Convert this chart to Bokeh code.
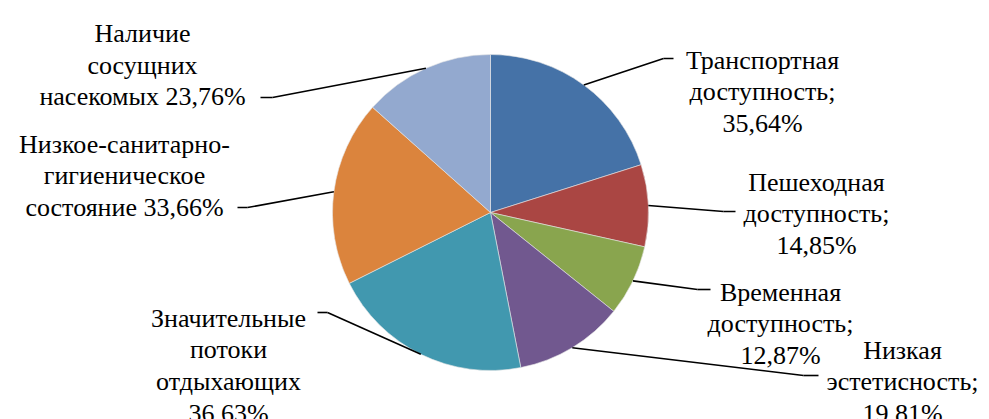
import math
from bokeh.plotting import figure
from bokeh.models import Range1d, ColumnDataSource
from bokeh.embed import file_html
from bokeh.resources import INLINE

# ---- data ----
categories = [
    "Транспортная\nдоступность",
    "Пешеходная\nдоступность",
    "Временная\nдоступность",
    "Низкая\nэстетисность",
    "Значительные\nпотоки\nотдыхающих",
    "Низкое-санитарно-\nгигиеническое\nсостояние",
    "Наличие\nсосущних\nнасекомых",
]
values = [35.64, 14.85, 12.87, 19.81, 36.63, 33.66, 23.76]
separators = [";\n", ";\n", ";\n", ";\n", "\n", " ", " "]
colors = ["#4572A7", "#AA4643", "#89A54E", "#71588F", "#4198AF", "#DB843D", "#93A9CF"]

# ---- layout (page pixel coordinates) ----
W, H = 989, 419
def Y(py):
    return 419 - py

cx, cy, r = 490, 212, 158
label_pos = [(762, 60), (816, 182), (780, 292), (902, 350),
             (228, 318), (124, 144), (142, 33)]
line_step = 31.5
elbows = [(663, 58, 673), (723, 211, 735), (697, 289, 710), (803, 375, 818),
          (327, 312, 317), (247, 207, 237), (272, 97, 260)]
lw = 1.6

total = sum(values)
cum = [0.0]
for v in values:
    cum.append(cum[-1] + v / total)
start = [math.pi / 2 - 2 * math.pi * c for c in cum[:-1]]
end = [math.pi / 2 - 2 * math.pi * c for c in cum[1:]]
mid = [(a + b) / 2 for a, b in zip(start, end)]

labels = [c + s + f"{v:.2f}".replace(".", ",") + "%"
          for c, s, v in zip(categories, separators, values)]

p = figure(width=W, height=H, output_backend="svg", toolbar_location=None,
           x_range=Range1d(0, W), y_range=Range1d(419 - H, 419),
           min_border=0, outline_line_color=None)
p.axis.visible = False
p.grid.visible = False

p.wedge(x=[cx] * len(values), y=[Y(cy)] * len(values), radius=r,
        start_angle=start, end_angle=end, direction="clock",
        fill_color=colors, line_color="#E6E6E6", line_width=0.6)

# leader lines drawn as thin filled strips
def strip(xa, ya, xb, yb):
    dx, dy = xb - xa, yb - ya
    n = math.hypot(dx, dy) or 1.0
    ox, oy = -dy / n * lw / 2, dx / n * lw / 2
    return ([xa + ox, xb + ox, xb - ox, xa - ox], [ya + oy, yb + oy, yb - oy, ya - oy])

pxs, pys = [], []
for m, (ex, ey, tx) in zip(mid, elbows):
    sx = cx + r * math.cos(m)
    sy = Y(cy) + r * math.sin(m)
    for a, b in [((sx, sy), (ex, Y(ey))), ((ex, Y(ey)), (tx, Y(ey)))]:
        qx, qy = strip(a[0], a[1], b[0], b[1])
        pxs.append(qx)
        pys.append(qy)
p.patches(pxs, pys, fill_color="black", line_color=None)

tx_, ty_, tt_ = [], [], []
for lab, (lx, ly) in zip(labels, label_pos):
    for k, line in enumerate(lab.split("\n")):
        tx_.append(lx)
        ty_.append(round(Y(ly + k * line_step)))
        tt_.append(line)
src = ColumnDataSource(dict(x=tx_, y=ty_, text=tt_,
                            font=["Liberation Serif"] * len(tt_),
                            size=["26px"] * len(tt_)))
p.text(x="x", y="y", text="text", text_font="font", text_font_size="size",
       source=src, text_align="center", text_baseline="alphabetic",
       text_color="black")

open("out.html", "w").write(file_html(p, INLINE))
